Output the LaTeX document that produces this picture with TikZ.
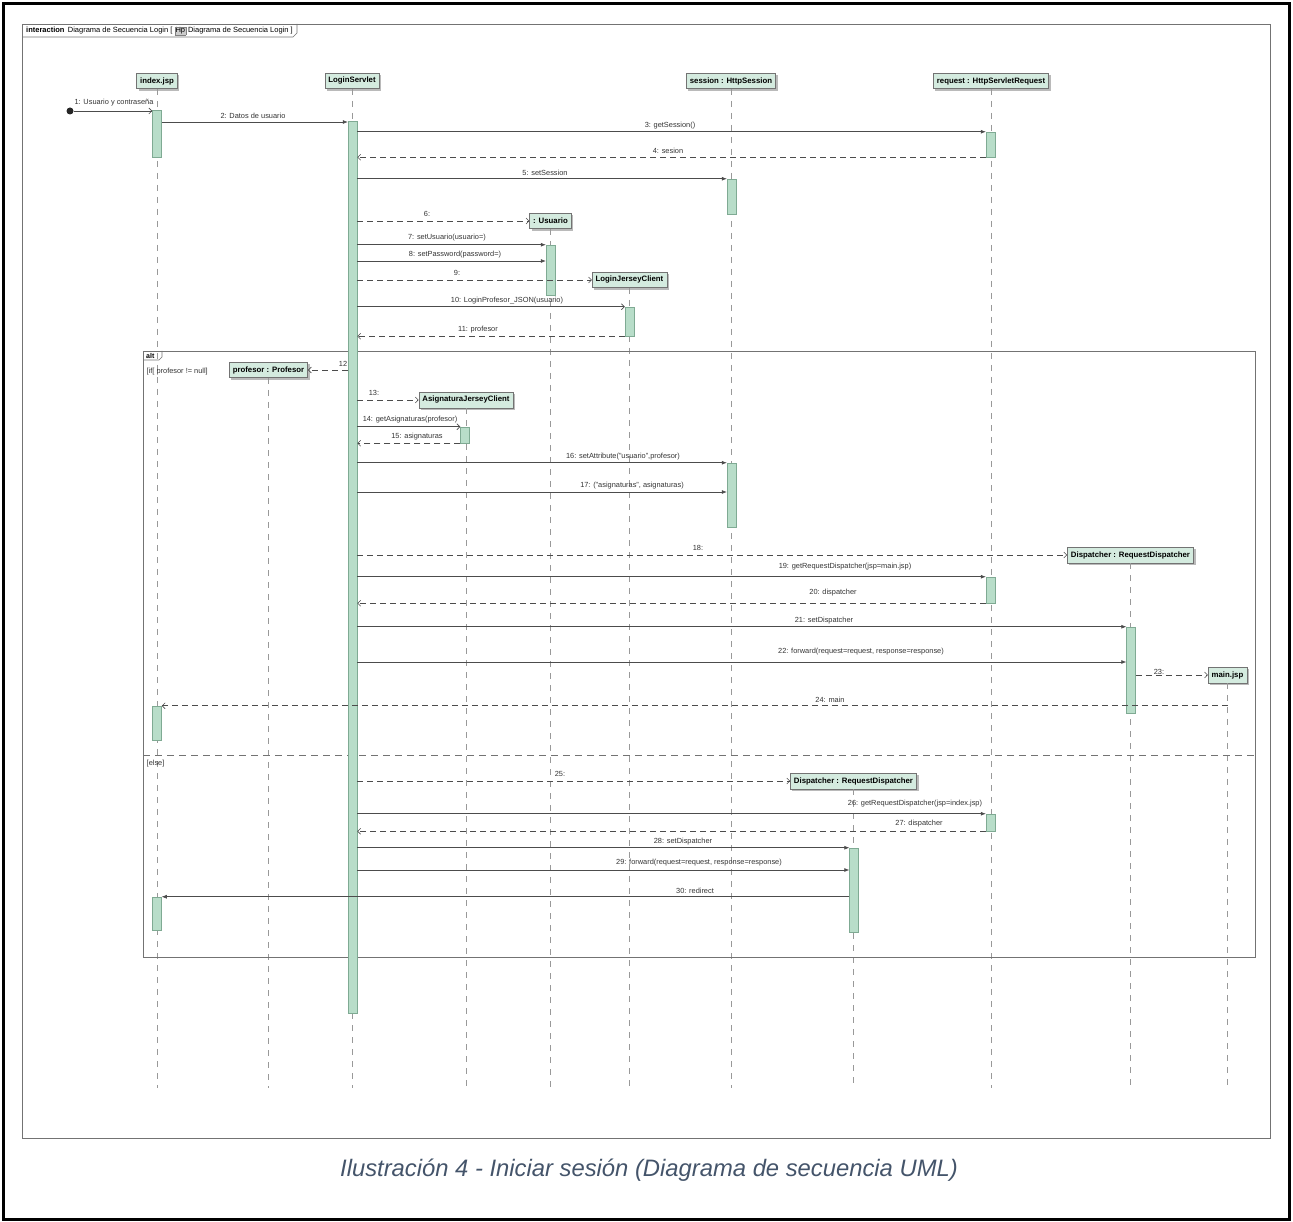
\documentclass[tikz,border=0pt]{standalone}
\usepackage{fontspec}
\setmainfont{Liberation Sans}
\usetikzlibrary{arrows.meta,shadows}

\definecolor{headfill}{HTML}{D4EBDF}
\definecolor{actfill}{HTML}{B8DDC9}
\definecolor{actdraw}{HTML}{7FAA93}
\definecolor{captioncol}{HTML}{44546A}

\tikzset{
  frameline/.style={draw=black!55, line width=0.6pt},
  head/.style={draw=black!55, fill=headfill, line width=0.5pt,
    font=\fontsize{7.8}{9}\selectfont\bfseries, inner xsep=3.5pt, inner ysep=0pt,
    minimum height=15.5pt,
    drop shadow={shadow xshift=2pt, shadow yshift=-2pt, fill=black!45, opacity=0.6}},
  life/.style={draw=black!40, line width=0.5pt, dash pattern=on 6pt off 6pt},
  actbar/.style={draw=actdraw, fill=actfill, line width=0.5pt, minimum width=9pt, inner sep=0pt},
  msg/.style={draw=black!70, line width=0.6pt},
  sync/.style={msg, -{Latex[length=5pt, width=4pt]}},
  async/.style={msg, -{Straight Barb[length=3pt, width=6pt]}},
  ret/.style={msg, dash pattern=on 6pt off 4pt, -{Straight Barb[length=3pt, width=6pt]}},
  lbl/.style={font=\fontsize{7.4}{8}\selectfont, text=black!80, inner sep=0.5pt},
}

% activation bar: name, x, top y, bottom y
\newcommand{\mkact}[4]{\node[actbar, minimum height={#4pt-#3pt}] (#1) at (#2,{(#3+#4)/2}) {};}

\begin{document}
\begin{tikzpicture}[x=1pt, y=-1pt]
\useasboundingbox (0,0) rectangle (1293,1222);

% page border
\draw[line width=3pt] (3.5,3.5) rectangle (1289.5,1219.5);

% interaction frame and its tab
\draw[frameline] (22,24) rectangle (1270,1138);
\node[anchor=west, font=\fontsize{7.5}{8}\selectfont, inner sep=0pt] (tabtxt) at (26,31)
  {\textbf{interaction}\, Diagrama de Secuencia Login [ {\setlength\fboxsep{0.6pt}\setlength\fboxrule{0.3pt}\fcolorbox{black!50}{black!20}{Hp}} Diagrama de Secuencia Login ]};
\draw[frameline] (22,37) -- (293,37) -- (297,33) -- (297,24);

% lifeline heads created at the start
\node[head] (idx) at (157,81) {index.jsp};
\node[head] (srv) at (352,81) {LoginServlet};
\node[head] (ses) at (731,81) {session : HttpSession};
\node[head] (req) at (991,81) {request : HttpServletRequest};
% heads created by messages
\node[head] (usu) at (550.5,221) {: Usuario};
\node[head] (ljc) at (629.5,280) {LoginJerseyClient};
\node[head] (prof) at (268.5,370) {profesor : Profesor};
\node[head] (ajc) at (466,400) {AsignaturaJerseyClient};
\node[head] (dsp) at (1130.5,555) {Dispatcher : RequestDispatcher};
\node[head] (mainj) at (1227.5,675) {main.jsp};
\node[head] (dsp2) at (853.5,781) {Dispatcher : RequestDispatcher};

% lifelines
\foreach \h in {idx,srv,ses,req,usu,ljc,prof,ajc,dsp,mainj,dsp2}
  \draw[life] (\h.south) -- (\h.south |- 0,1088);

% alt combined fragment
\draw[frameline] (143,351) rectangle (1255,957);
\draw[frameline] (143,360) -- (159,360) -- (162,357) -- (162,351);
\node[anchor=west, font=\fontsize{7}{7}\selectfont\bfseries, inner sep=0pt] (altlbl) at (146,355.5) {alt};
\node[anchor=west, lbl] (g1) at (146,372) {[if[ profesor != null]};
\draw[frameline, dash pattern=on 7pt off 5pt] (143,755) -- (1255,755);
\node[anchor=west, lbl] (g2) at (146,764) {[else]};

% activation bars
\mkact{idxA1}{157}{110}{157}
\mkact{idxA2}{157}{706}{740}
\mkact{idxA3}{157}{897}{930}
\mkact{srvA}{352.5}{121}{1013}
\mkact{reqA1}{990.5}{132}{157}
\mkact{sesA1}{731.5}{179}{214}
\mkact{usuA}{550.5}{245}{295}
\mkact{ljcA}{629.5}{307}{336}
\mkact{ajcA}{465}{427}{443}
\mkact{sesA2}{731.5}{463}{527}
\mkact{reqA2}{990.5}{577}{603}
\mkact{dspA}{1131}{627}{713}
\mkact{reqA3}{990.5}{814}{831}
\mkact{dsp2A}{854}{848}{932}

% found message start
\node[circle, fill=black!85, inner sep=0pt, minimum size=7pt] (init) at (70,111) {};

% messages
\draw[async] (init) -- (idxA1.west |- init);
\node[lbl] (l1) at (114,103) {1: Usuario y contraseña};

\draw[sync] (idxA1.east |- 0,122) -- (srvA.west |- 0,122);
\node[lbl] (l2) at (253,116) {2: Datos de usuario};

\draw[sync] (srvA.east |- reqA1.north) -- (reqA1.north west);
\node[lbl] (l3) at (670,126) {3: getSession()};

\draw[ret] (reqA1.south west) -- (srvA.east |- reqA1.south);
\node[lbl] (l4) at (668,151) {4: sesion};

\draw[sync] (srvA.east |- sesA1.north) -- (sesA1.north west);
\node[lbl] (l5) at (545,173) {5: setSession};

\draw[ret] (srvA.east |- usu.west) -- (usu.west);
\node[lbl] (l6) at (427,214) {6:};

\draw[sync] (srvA.east |- usuA.north) -- (usuA.north west);
\node[lbl] (l7) at (447,238) {7: setUsuario(usuario=)};

\draw[sync] (srvA.east |- 0,261) -- (usuA.west |- 0,261);
\node[lbl] (l8) at (455,255) {8: setPassword(password=)};

\draw[ret] (srvA.east |- ljc.west) -- (ljc.west);
\node[lbl] (l9) at (457,273) {9:};

\draw[async] (srvA.east |- ljcA.north) -- (ljcA.north west);
\node[lbl] (l10) at (507,301) {10: LoginProfesor\_JSON(usuario)};

\draw[ret] (ljcA.south west) -- (srvA.east |- ljcA.south);
\node[lbl] (l11) at (478,330) {11: profesor};

\draw[ret] (srvA.west |- prof.east) -- (prof.east);
\node[lbl] (l12) at (343,364) {12};

\draw[ret] (srvA.east |- ajc.west) -- (ajc.west);
\node[lbl] (l13) at (374,393) {13:};

\draw[async] (srvA.east |- ajcA.north) -- (ajcA.north west);
\node[lbl] (l14) at (410,420) {14: getAsignaturas(profesor)};

\draw[ret] (ajcA.south west) -- (srvA.east |- ajcA.south);
\node[lbl] (l15) at (417,437) {15: asignaturas};

\draw[sync] (srvA.east |- sesA2.north) -- (sesA2.north west);
\node[lbl] (l16) at (623,457) {16: setAttribute("usuario",profesor)};

\draw[sync] (srvA.east |- 0,492) -- (sesA2.west |- 0,492);
\node[lbl] (l17) at (632,486) {17: ("asignaturas", asignaturas)};

\draw[ret] (srvA.east |- dsp.west) -- (dsp.west);
\node[lbl] (l18) at (698,548) {18:};

\draw[sync] (srvA.east |- reqA2.north) -- (reqA2.north west);
\node[lbl] (l19) at (845,567) {19: getRequestDispatcher(jsp=main.jsp)};

\draw[ret] (reqA2.south west) -- (srvA.east |- reqA2.south);
\node[lbl] (l20) at (833,593) {20: dispatcher};

\draw[sync] (srvA.east |- dspA.north) -- (dspA.north west);
\node[lbl] (l21) at (824,621) {21: setDispatcher};

\draw[sync] (srvA.east |- 0,662) -- (dspA.west |- 0,662);
\node[lbl] (l22) at (861,652) {22: forward(request=request, response=response)};

\draw[ret] (dspA.east |- mainj.west) -- (mainj.west);
\node[lbl] (l23) at (1159,672) {23:};

\draw[ret] (mainj.south |- idxA2.north) -- (idxA2.north east);
\node[lbl] (l24) at (830,700) {24: main};

\draw[ret] (srvA.east |- dsp2.west) -- (dsp2.west);
\node[lbl] (l25) at (560,774) {25:};

\draw[sync] (srvA.east |- reqA3.north) -- (reqA3.north west);
\node[lbl] (l26) at (915,804) {26: getRequestDispatcher(jsp=index.jsp)};

\draw[ret] (reqA3.south west) -- (srvA.east |- reqA3.south);
\node[lbl] (l27) at (919,824) {27: dispatcher};

\draw[sync] (srvA.east |- dsp2A.north) -- (dsp2A.north west);
\node[lbl] (l28) at (683,842) {28: setDispatcher};

\draw[sync] (srvA.east |- 0,870) -- (dsp2A.west |- 0,870);
\node[lbl] (l29) at (699,863) {29: forward(request=request, response=response)};

\draw[sync] (dsp2A.west |- idxA3.north) -- (idxA3.north east);
\node[lbl] (l30) at (695,891) {30: redirect};

% figure caption
\node[font=\fontsize{23.8}{28}\selectfont\itshape, text=captioncol] (cap) at (649,1170)
  {Ilustración 4 - Iniciar sesión (Diagrama de secuencia UML)};
\end{tikzpicture}
\end{document}
